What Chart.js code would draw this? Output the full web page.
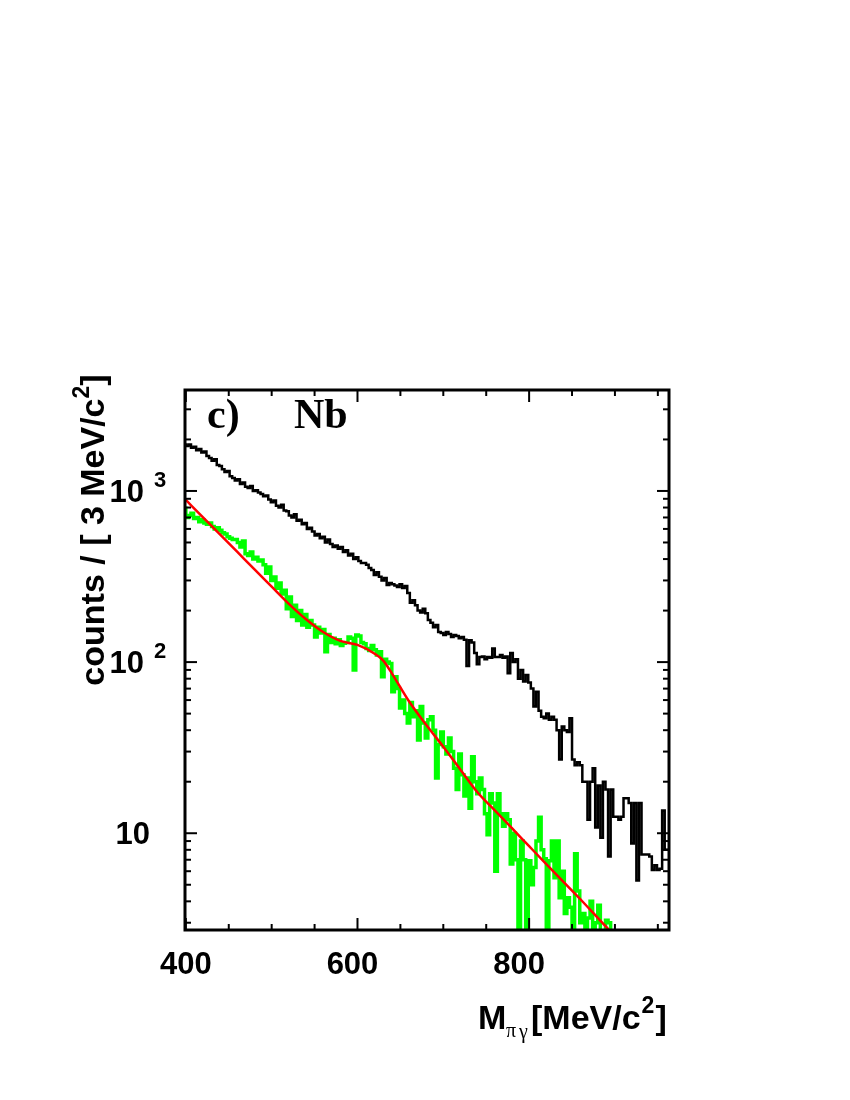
<!DOCTYPE html>
<html>
<head>
<meta charset="utf-8">
<script src="https://cdn.jsdelivr.net/npm/chart.js@4.4.0/dist/chart.umd.min.js"></script>
<style>
  body { margin: 0; background: #fff; }
  canvas { display: block; }
</style>
</head>
<body>
<canvas id="massChart" width="850" height="1100"></canvas>
<script>
// histogram binning, MeV/c^2
const binLow = 400
const binWidth = 3

// all pi0-gamma pairs (black), one value per 3 MeV bin
const allCounts = [
  1900, 1830, 1870, 1790, 1810, 1730, 1760, 1680, 1700, 1600,
  1560, 1500, 1530, 1420, 1400, 1340, 1290, 1310, 1220, 1190,
  1150, 1170, 1100, 1120, 1060, 1040, 1070, 1000, 1010, 980,
  960, 930, 940, 890, 860, 880, 820, 800, 830, 770,
  760, 720, 700, 730, 670, 680, 640, 650, 600, 610,
  580, 550, 560, 530, 540, 500, 520, 490, 470, 480,
  460, 470, 440, 450, 420, 430, 400, 410, 390, 380,
  380, 370, 355, 345, 323, 335, 315, 300, 310, 282,
  290, 285, 280, 275, 285, 271, 278, 253, 222, 230,
  215, 200, 195, 205, 193, 176, 170, 160, 165, 150,
  148, 144, 150, 146, 140, 144, 142, 138, 140, 135,
  95, 134, 130, 113, 97, 107, 108, 104, 107, 106,
  120, 107, 107, 110, 106, 108, 86, 113, 100, 104,
  80, 90, 77, 84, 76, 70, 55, 67, 52, 48,
  47, 50, 46, 48, 46, 40, 27, 42, 40, 39,
  47, 27, 25, 26, 25, 20, 20, 12, 20, 24,
  10.8, 19, 9.4, 20, 18, 7.3, 18, 12.5, 12.5, 12,
  12.5, 16, 16, 15, 8.7, 15, 5.3, 15, 7.5, 7.5,
  7.5, 7.3, 6.1, 6.5, 6.1, 6.2, 13.6, 8
]

// background subtracted spectrum (green); 1 = below the axis
const signalCounts = [
  810, 700, 720, 740, 690, 700, 660, 680, 650, 640,
  650, 620, 600, 610, 590, 570, 560, 540, 530, 520,
  520, 500, 470, 510, 430, 420, 440, 400, 410, 390,
  395, 370, 330, 360, 300, 314, 270, 290, 250, 263,
  205, 240, 185, 215, 175, 200, 165, 190, 160, 175,
  165, 140, 160, 148, 155, 115, 145, 130, 138, 128,
  135, 125, 129, 130, 140, 138, 90, 144, 142, 130,
  128, 120, 117, 125, 118, 110, 115, 82, 104, 100,
  98, 67, 82, 70, 54, 60, 50, 44, 58, 48,
  52, 35, 55, 44, 36, 46, 48, 40, 21, 33,
  39, 32, 29, 36, 30, 24, 18, 29, 22, 16.5,
  21, 14, 28, 20, 17, 21, 18, 13, 9.8, 17,
  15, 6, 17, 13, 11, 13, 12, 6.6, 10, 7,
  1, 9, 7, 1, 6.9, 5, 6.3, 9, 12.4, 8,
  7.1, 1, 6.9, 9, 5.5, 9, 4.2, 6, 3.4, 4.2,
  3.7, 1, 7.6, 4.6, 3, 3.4, 1, 3.2, 4, 1,
  3, 3.8, 1, 1, 3.1, 3, 1, 1, 1, 1,
  1, 1, 1, 1, 1, 1, 1, 1, 1, 1,
  1, 1, 1, 1, 1, 1, 1, 1
]

// fit curve (red)
const fitMass = [400, 420, 440, 460, 480, 500, 520, 540, 560, 580, 600, 620, 630, 640, 660, 680, 700, 720, 740, 760, 780, 800, 820, 840, 860, 880, 900]
const fitCounts = [886, 701, 556, 440, 348, 276, 219, 178, 150, 133, 126, 112, 102, 86, 59, 43, 32, 23.5, 17.3, 13.6, 10.7, 8.4, 6.6, 5.2, 4.1, 3.2, 2.5]

const xTickLabels = [400, 600, 800]
const yTickLabels = [10, 100, 1000]

// histogram as left bin edges + closing edge, drawn stepped
const histPoints = function (counts) {
    const pts = counts.map((c, i) => ({ x: binLow + i * binWidth, y: c }))
    pts.push({ x: binLow + counts.length * binWidth, y: counts[counts.length - 1] })
    return pts
}

const sans = '"Liberation Sans", Arial, sans-serif'
const serif = '"Liberation Serif", "Times New Roman", serif'

const frameAndText = {
    id: 'frameAndText',
    afterDraw(chart) {
        const { ctx, chartArea: a } = chart
        const x = chart.scales.x
        const y = chart.scales.y
        ctx.save()
        ctx.strokeStyle = '#000'
        ctx.fillStyle = '#000'

        // inward ticks on all four sides
        ctx.lineWidth = 2
        const tick = function (x1, y1, x2, y2) {
            ctx.beginPath(); ctx.moveTo(x1, y1); ctx.lineTo(x2, y2); ctx.stroke()
        }
        for (let v = 400; v < x.max; v += 50) {
            const px = x.getPixelForValue(v)
            const len = xTickLabels.includes(v) ? 12 : 6
            tick(px, a.bottom, px, a.bottom - len)
            tick(px, a.top, px, a.top + len)
        }
        for (let d = 1; d <= 1000; d *= 10) {
            for (let m = 1; m <= 9; m++) {
                const v = m * d
                if (v < y.min || v > y.max) continue
                const py = y.getPixelForValue(v)
                const len = m === 1 ? 12 : 6
                tick(a.left, py, a.left + len, py)
                tick(a.right, py, a.right - len, py)
            }
        }
        ctx.lineWidth = 3
        ctx.strokeRect(a.left, a.top, a.right - a.left, a.bottom - a.top)

        // x tick labels
        ctx.font = 'bold 31px ' + sans
        ctx.textAlign = 'center'
        ctx.textBaseline = 'alphabetic'
        xTickLabels.forEach(v => ctx.fillText(String(v), x.getPixelForValue(v) - (v - 400) / 40, 974))

        // y tick labels, 10 with exponent
        yTickLabels.forEach(v => {
            const py = y.getPixelForValue(v)
            const exp = Math.round(Math.log10(v))
            ctx.font = 'bold 31px ' + sans
            ctx.textAlign = 'right'
            if (exp === 1) {
                ctx.fillText('10', 150, py + 11)
            } else {
                ctx.fillText('10', 144, py + 11)
                ctx.font = 'bold 22px ' + sans
                ctx.textAlign = 'left'
                ctx.fillText(String(exp), 154, py - 4)
            }
        })

        // y axis title
        ctx.save()
        ctx.translate(104, 530)
        ctx.rotate(-Math.PI / 2)
        const t1 = 'counts / [ 3 MeV/c'
        ctx.font = 'bold 34px ' + sans
        const w1 = ctx.measureText(t1).width
        ctx.font = 'bold 23px ' + sans
        const w2 = ctx.measureText('2').width
        ctx.font = 'bold 34px ' + sans
        const w3 = ctx.measureText(']').width
        let cx = -(w1 + w2 + w3) / 2
        ctx.textAlign = 'left'
        ctx.fillText(t1, cx, 0)
        cx += w1
        ctx.font = 'bold 23px ' + sans
        ctx.fillText('2', cx, -15)
        cx += w2
        ctx.font = 'bold 34px ' + sans
        ctx.fillText(']', cx, 0)
        ctx.restore()

        // x axis title
        ctx.textAlign = 'left'
        ctx.font = 'bold 34px ' + sans
        ctx.fillText('M', 478, 1029)
        ctx.font = '20px ' + serif
        ctx.fillText('π', 506, 1037)
        ctx.fillText('γ', 519, 1038)
        let tx = 531
        ctx.font = 'bold 34px ' + sans
        ctx.fillText('[MeV/c', tx, 1029)
        tx += ctx.measureText('[MeV/c').width
        ctx.font = 'bold 23px ' + sans
        ctx.fillText('2', tx + 1, 1013)
        tx += ctx.measureText('2').width + 2
        ctx.font = 'bold 34px ' + sans
        ctx.fillText(']', tx, 1029)

        // panel label
        ctx.font = 'bold 42px ' + serif
        ctx.fillText('c)', 207, 428)
        ctx.fillText('Nb', 294, 428)
        ctx.restore()
    }
}

new Chart(document.getElementById('massChart'), {
    type: 'line',
    data: {
        datasets: [{
            data: fitMass.map((m, i) => ({ x: m, y: fitCounts[i] })),
            borderColor: '#ff0000',
            borderWidth: 2.5,
            cubicInterpolationMode: 'monotone',
            pointRadius: 0
        }, {
            data: histPoints(signalCounts),
            borderColor: '#00ff00',
            borderWidth: 3.5,
            stepped: 'after',
            pointRadius: 0
        }, {
            data: histPoints(allCounts),
            borderColor: '#000000',
            borderWidth: 2.5,
            stepped: 'after',
            pointRadius: 0
        }]
    },
    options: {
        responsive: false,
        animation: false,
        layout: { padding: { left: 185, right: 181, top: 390, bottom: 170 } },
        plugins: { legend: { display: false }, tooltip: { enabled: false } },
        scales: {
            x: { type: 'linear', min: 399, max: 963, display: false },
            y: { type: 'logarithmic', min: 2.72, max: 3890, display: false }
        }
    },
    plugins: [frameAndText]
});
</script>
</body>
</html>
